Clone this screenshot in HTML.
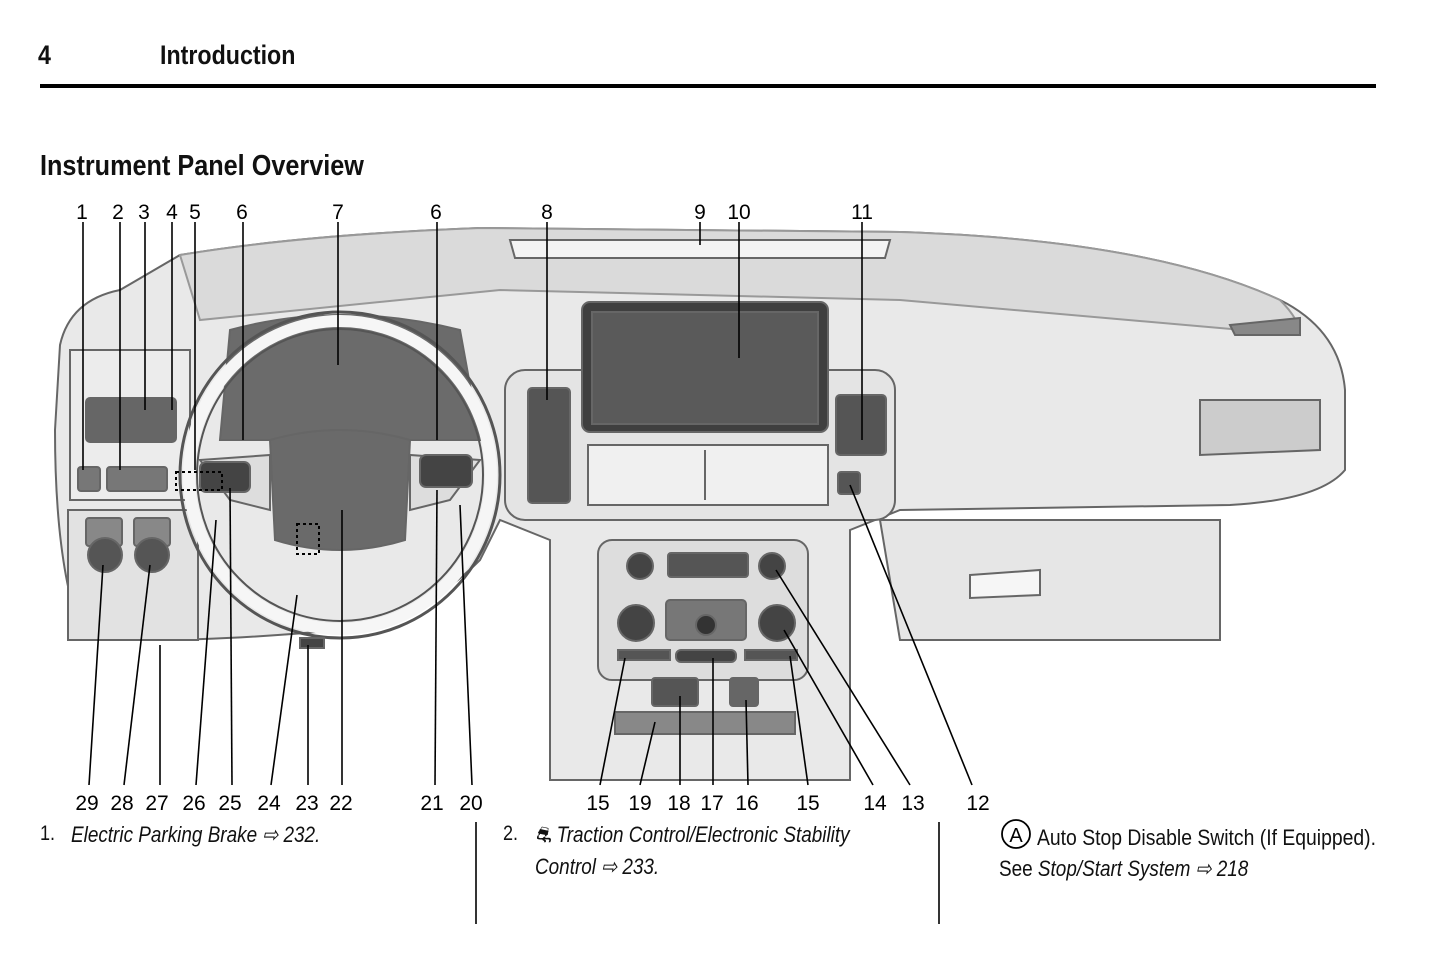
<!DOCTYPE html>
<html><head><meta charset="utf-8"><style>
body{margin:0;background:#fff;width:1445px;height:959px;overflow:hidden;position:relative;font-family:"Liberation Sans Narrow","Liberation Sans",sans-serif;}
.t{position:absolute;white-space:nowrap;color:#111;transform:scaleX(0.86);transform-origin:0 0}
</style></head><body>
<div class="t" style="left:38px;top:40px;font-size:27px;font-weight:bold">4</div>
<div class="t" style="left:160px;top:40px;font-size:27px;font-weight:bold">Introduction</div>
<div style="position:absolute;left:40px;top:84px;width:1336px;height:4px;background:#000"></div>
<div class="t" style="left:40px;top:150px;font-size:29px;font-weight:bold;transform:scaleX(0.87)">Instrument Panel Overview</div>
<svg width="1445" height="959" style="position:absolute;left:0;top:0" font-family="Liberation Sans, sans-serif">
<g stroke="#666" stroke-width="2">
<path d="M60 345 Q70 300 120 290 L180 255 Q300 235 480 228 L900 232 Q1150 240 1280 300 Q1340 330 1345 390 L1345 470 Q1320 500 1230 505 L900 510 L850 530 L850 780 L550 780 L550 540 L500 520 L480 560 Q420 620 340 630 Q230 640 150 640 L80 630 Q55 560 55 430 Z" fill="#e9e9e9"/>
<path d="M180 255 Q300 235 480 228 L900 232 Q1150 240 1280 300 Q1300 320 1300 335 L900 300 L500 290 L200 320 Z" fill="#dadada" stroke="#999"/>
<path d="M510 240 L890 240 L885 258 L515 258 Z" fill="#f3f3f3"/>
<path d="M70 350 L190 350 L190 500 L70 500 Z" fill="#ececec"/>
<rect x="86" y="398" width="90" height="44" fill="#666" rx="4"/>
<rect x="78" y="467" width="22" height="24" fill="#777" rx="3"/>
<rect x="107" y="467" width="60" height="24" fill="#777" rx="3"/>
<rect x="68" y="510" width="130" height="130" fill="#e2e2e2"/>
<rect x="86" y="518" width="36" height="28" fill="#888" rx="3"/>
<rect x="134" y="518" width="36" height="28" fill="#888" rx="3"/>
<circle cx="105" cy="555" r="17" fill="#555"/>
<circle cx="152" cy="555" r="17" fill="#555"/>
<path d="M230 330 Q340 300 460 330 L480 440 L220 440 Z" fill="#6b6b6b"/>
<rect x="505" y="370" width="390" height="150" rx="20" fill="#e4e4e4"/>
<rect x="528" y="388" width="42" height="115" fill="#555" rx="4"/>
<rect x="836" y="395" width="50" height="60" fill="#555" rx="4"/>
<rect x="838" y="472" width="22" height="22" fill="#555" rx="3"/>
<rect x="582" y="302" width="246" height="130" rx="8" fill="#3f3f3f"/>
<rect x="592" y="312" width="226" height="112" fill="#5a5a5a"/>
<rect x="588" y="445" width="240" height="60" fill="#f0f0f0"/>
<line x1="705" y1="450" x2="705" y2="500"/>
<rect x="598" y="540" width="210" height="140" rx="14" fill="#ddd"/>
<circle cx="640" cy="566" r="13" fill="#444"/>
<circle cx="772" cy="566" r="13" fill="#444"/>
<rect x="668" y="553" width="80" height="24" fill="#555" rx="3"/>
<circle cx="636" cy="623" r="18" fill="#444"/>
<circle cx="777" cy="623" r="18" fill="#444"/>
<rect x="666" y="600" width="80" height="40" fill="#777" rx="4"/>
<circle cx="706" cy="625" r="10" fill="#333"/>
<rect x="618" y="650" width="52" height="10" fill="#555"/>
<rect x="676" y="650" width="60" height="12" fill="#444" rx="5"/>
<rect x="745" y="650" width="52" height="10" fill="#555"/>
<rect x="652" y="678" width="46" height="28" fill="#555" rx="3"/>
<rect x="730" y="678" width="28" height="28" fill="#666" rx="3"/>
<rect x="615" y="712" width="180" height="22" fill="#888"/>
<path d="M1200 400 L1320 400 L1320 450 L1200 455 Z" fill="#ccc"/>
<path d="M880 520 L1220 520 L1220 640 L900 640 Z" fill="#e6e6e6"/>
<path d="M970 575 L1040 570 L1040 595 L970 598 Z" fill="#f6f6f6"/>
<path d="M1230 325 L1300 318 L1300 335 L1235 335 Z" fill="#888"/>
<ellipse cx="340" cy="475" rx="160" ry="163" fill="none" stroke="#555" stroke-width="3"/>
<ellipse cx="340" cy="475" rx="143" ry="146" fill="none" stroke="#555" stroke-width="2"/>
<ellipse cx="340" cy="475" rx="151" ry="154" fill="none" stroke="#f6f6f6" stroke-width="12"/>
<path d="M200 460 L270 455 L270 510 L230 500 Z" fill="#ddd"/>
<path d="M480 460 L410 455 L410 510 L450 500 Z" fill="#ddd"/>
<rect x="200" y="462" width="50" height="30" fill="#444" rx="6"/>
<rect x="420" y="455" width="52" height="32" fill="#444" rx="6"/>
<path d="M270 440 Q340 420 410 440 L405 540 Q340 560 275 540 Z" fill="#6a6a6a"/>
<rect x="297" y="524" width="22" height="30" fill="none" stroke="#000" stroke-dasharray="3 3"/>
<rect x="176" y="472" width="46" height="18" fill="none" stroke="#000" stroke-dasharray="3 3"/>
<rect x="300" y="638" width="24" height="10" fill="#444"/>
</g>
<g stroke="#000" stroke-width="1.6">
<line x1="83" y1="222" x2="83" y2="470"/><line x1="120" y1="222" x2="120" y2="470"/>
<line x1="145" y1="222" x2="145" y2="410"/><line x1="172" y1="222" x2="172" y2="410"/>
<line x1="195" y1="222" x2="195" y2="470"/><line x1="243" y1="222" x2="243" y2="440"/>
<line x1="338" y1="222" x2="338" y2="365"/><line x1="437" y1="222" x2="437" y2="440"/>
<line x1="547" y1="222" x2="547" y2="400"/><line x1="700" y1="222" x2="700" y2="245"/>
<line x1="739" y1="222" x2="739" y2="358"/><line x1="862" y1="222" x2="862" y2="440"/>
<line x1="89" y1="785" x2="103" y2="565"/><line x1="124" y1="785" x2="150" y2="565"/>
<line x1="160" y1="785" x2="160" y2="645"/><line x1="196" y1="785" x2="216" y2="520"/>
<line x1="232" y1="785" x2="230" y2="488"/><line x1="271" y1="785" x2="297" y2="595"/>
<line x1="308" y1="785" x2="308" y2="645"/><line x1="342" y1="785" x2="342" y2="510"/>
<line x1="435" y1="785" x2="437" y2="490"/><line x1="472" y1="785" x2="460" y2="505"/>
<line x1="600" y1="785" x2="625" y2="658"/><line x1="640" y1="785" x2="655" y2="722"/>
<line x1="680" y1="785" x2="680" y2="696"/><line x1="713" y1="785" x2="713" y2="658"/>
<line x1="748" y1="785" x2="746" y2="700"/><line x1="808" y1="785" x2="790" y2="656"/>
<line x1="873" y1="785" x2="784" y2="630"/><line x1="910" y1="785" x2="776" y2="570"/>
<line x1="972" y1="785" x2="850" y2="485"/>
<line x1="476" y1="822" x2="476" y2="924"/><line x1="939" y1="822" x2="939" y2="924"/>
</g>
<g font-size="21" fill="#000" text-anchor="middle">
<text x="82" y="219">1</text><text x="118" y="219">2</text><text x="144" y="219">3</text><text x="172" y="219">4</text><text x="195" y="219">5</text><text x="242" y="219">6</text><text x="338" y="219">7</text><text x="436" y="219">6</text><text x="547" y="219">8</text><text x="700" y="219">9</text><text x="739" y="219">10</text><text x="862" y="219">11</text>
<text x="87" y="810">29</text><text x="122" y="810">28</text><text x="157" y="810">27</text><text x="194" y="810">26</text><text x="230" y="810">25</text><text x="269" y="810">24</text><text x="307" y="810">23</text><text x="341" y="810">22</text><text x="432" y="810">21</text><text x="471" y="810">20</text><text x="598" y="810">15</text><text x="640" y="810">19</text><text x="679" y="810">18</text><text x="712" y="810">17</text><text x="747" y="810">16</text><text x="808" y="810">15</text><text x="875" y="810">14</text><text x="913" y="810">13</text><text x="978" y="810">12</text>
</g>
<circle cx="1016" cy="834" r="14" fill="none" stroke="#000" stroke-width="1.8"/>
<text x="1016" y="842" font-size="20" text-anchor="middle">A</text>
</svg>
<div class="t" style="left:40px;top:822px;font-size:21px">1.</div>
<div class="t" style="left:71px;top:822px;font-size:22px;font-style:italic">Electric Parking Brake ⇨ 232.</div>
<div class="t" style="left:503px;top:822px;font-size:21px">2.</div>
<div class="t" style="left:535px;top:822px;font-size:22px;font-style:italic">⛐ Traction Control/Electronic Stability</div>
<div class="t" style="left:535px;top:854px;font-size:22px;font-style:italic">Control ⇨ 233.</div>
<div class="t" style="left:1037px;top:825px;font-size:22px;transform:scaleX(0.88)">Auto Stop Disable Switch (If Equipped).</div>
<div class="t" style="left:999px;top:856px;font-size:22px">See <i>Stop/Start System ⇨ 218</i></div>
</body></html>
